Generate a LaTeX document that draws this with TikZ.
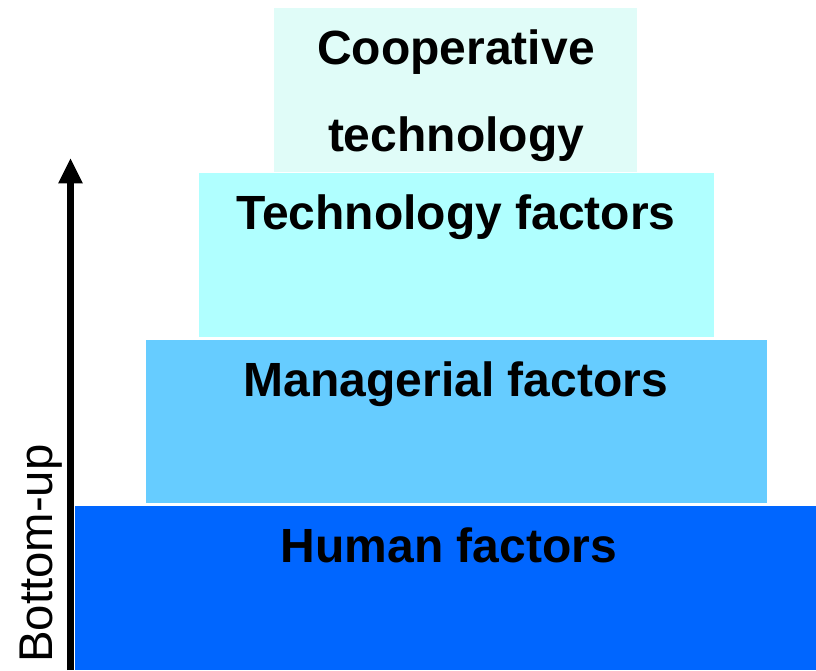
\documentclass[tikz,border=0pt]{standalone}
\usepackage{fontspec}
\setmainfont{Liberation Sans}
\usetikzlibrary{arrows.meta}
\definecolor{coopcol}{HTML}{E0FCF8}
\definecolor{techcol}{HTML}{B0FFFF}
\definecolor{mgrcol}{HTML}{66CCFF}
\definecolor{humancol}{HTML}{0066FF}
\tikzset{
  tierlabel/.style={anchor=base,inner sep=0pt,font=\fontsize{36}{43}\bfseries\selectfont}
}
\begin{document}
\begin{tikzpicture}[x=0.75pt,y=0.75pt]
  \useasboundingbox (0,0) rectangle (816,670);
  % pyramid tiers
  \fill[coopcol] (274,498) rectangle (637,662);
  \fill[techcol] (199,333) rectangle (714,497);
  \fill[mgrcol] (146,167) rectangle (767,330);
  \fill[humancol] (75,0) rectangle (816,164);
  \node[tierlabel] (coop) at (456,605) {Cooperative};
  \node[tierlabel] (cooptech) at (456,518) {technology};
  \node[tierlabel] (tech) at (456,440) {Technology factors};
  \node[tierlabel] (mgr) at (456,273) {Managerial factors};
  \node[tierlabel] (human) at (449,107) {Human factors};
  % bottom-up arrow
  \coordinate (tail) at (70.5,0);
  \coordinate (tip) at (70.5,512);
  \draw[line width=5.25pt,-{Triangle[width=17pt,length=19pt]}] (tail) -- (tip);
  \node[rotate=90,anchor=base west,inner sep=0pt,font=\fontsize{35.5}{42}\selectfont] (bu) at (52,7) {Bottom-up};
\end{tikzpicture}
\end{document}
